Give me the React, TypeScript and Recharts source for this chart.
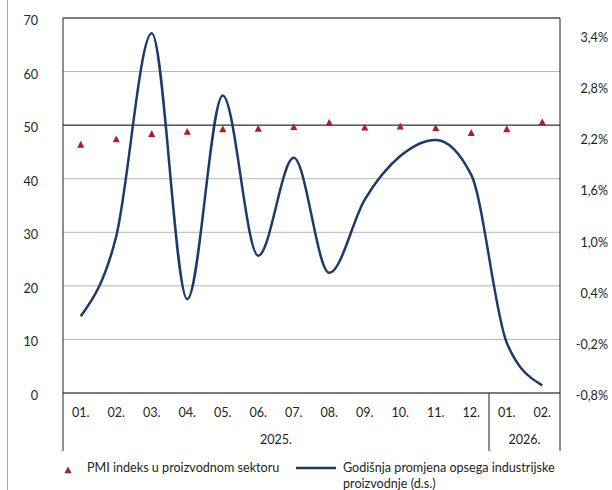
import {
  ComposedChart,
  Line,
  Scatter,
  XAxis,
  YAxis,
  CartesianGrid,
  ReferenceLine,
} from "recharts";

const months = ["01.", "02.", "03.", "04.", "05.", "06.", "07.", "08.", "09.", "10.", "11.", "12.", "01.", "02."];
const yearGroups = [
  { label: "2025.", count: 12 },
  { label: "2026.", count: 2 },
];
const pmi = [46.4, 47.4, 48.4, 48.8, 49.3, 49.4, 49.7, 50.5, 49.6, 49.8, 49.5, 48.6, 49.3, 50.6];
const production = [0.1, 1.04, 3.42, 0.3, 2.69, 0.81, 1.96, 0.61, 1.47, 1.98, 2.17, 1.76, -0.21, -0.71];
const leftTicks = [0, 10, 20, 30, 40, 50, 60, 70];
const rightTicks = [-0.8, -0.2, 0.4, 1.0, 1.6, 2.2, 2.8, 3.4];

const pmiLabel = "PMI indeks u proizvodnom sektoru";
const productionLabel = ["Godišnja promjena opsega industrijske", "proizvodnje (d.s.)"];

const data = months.map((m, i) => ({ month: m, pmi: pmi[i], production: production[i] }));

const FONT = "Lato, 'Open Sans', sans-serif";
const FS = 12.6;
const TEXT = "#231f20";
const NAVY = "#1d3a6c";
const RED = "#b01e2b";
const AXIS = "#231f20";

// layout
const W = 612;
const H = 490;
const margin = { top: 18, right: 0, bottom: 40, left: 8 };
const leftAxisW = 55;
const rightAxisW = 52;
const plotW = W - margin.left - margin.right - leftAxisW - rightAxisW;
const half = plotW / months.length / 2;

function Triangle(props: any) {
  const { cx, cy } = props;
  if (cx == null || cy == null) return null;
  return (
    <polygon
      points={`${cx - 3.6},${cy + 3.3} ${cx + 3.6},${cy + 3.3} ${cx},${cy - 3.6}`}
      fill={RED}
    />
  );
}

function MonthTick(props: any) {
  const { x, y, payload, index } = props;
  const parts: any[] = [
    <text key="m" x={x} y={y} dy={24} textAnchor="middle" fill={TEXT} fontSize={FS} fontFamily={FONT}>
      {payload.value}
    </text>,
  ];
  let start = 0;
  yearGroups.forEach((g, gi) => {
    if (index === start) {
      parts.push(<line key={`s${gi}`} x1={x - half} x2={x - half} y1={y} y2={y + 58} stroke={AXIS} strokeWidth={1} />);
    }
    const mid = start + (g.count - 1) / 2;
    if (index === Math.floor(mid)) {
      const cx = x + (mid - Math.floor(mid)) * 2 * half;
      parts.push(
        <text key={`y${gi}`} x={cx} y={y} dy={51} textAnchor="middle" fill={TEXT} fontSize={FS} fontFamily={FONT}>
          {g.label}
        </text>
      );
    }
    start += g.count;
  });
  if (index === months.length - 1) {
    parts.push(<line key="end" x1={x + half} x2={x + half} y1={y} y2={y + 58} stroke={AXIS} strokeWidth={1} />);
  }
  return <g>{parts}</g>;
}

function LeftTick(props: any) {
  const { x, y, payload } = props;
  return (
    <text x={x - 25} y={y} dy={7} textAnchor="end" fill={TEXT} fontSize={FS} fontFamily={FONT}>
      {payload.value}
    </text>
  );
}

function RightTick(props: any) {
  const { x, y, payload } = props;
  const label = `${Number(payload.value).toFixed(1).replace(".", ",")}%`;
  return (
    <text x={x + 48} y={y} dy={7} textAnchor="end" fill={TEXT} fontSize={FS} fontFamily={FONT}>
      {label}
    </text>
  );
}

export default function App() {
  return (
    <div style={{ position: "absolute", left: 0, top: 0, width: W, height: H, background: "#fff", fontFamily: FONT }}>
      <div style={{ position: "absolute", left: 7, top: 0, width: 1, height: H, background: "#aaa" }} />
      <ComposedChart width={W} height={H} data={data} margin={margin}>
        <CartesianGrid vertical={false} stroke="#b5b5b5" yAxisId="left" />
        <XAxis
          dataKey="month"
          interval={0}
          height={57}
          padding={{ left: half, right: half }}
          tickLine={false}
          tickSize={0}
          tickMargin={0}
          axisLine={{ stroke: AXIS }}
          tick={<MonthTick />}
        />
        <YAxis
          yAxisId="left"
          domain={[0, 70]}
          ticks={leftTicks}
          width={leftAxisW}
          tickLine={false}
          tickSize={0}
          tickMargin={0}
          axisLine={{ stroke: AXIS }}
          tick={<LeftTick />}
        />
        <YAxis
          yAxisId="right"
          orientation="right"
          domain={[-0.8, 3.6]}
          ticks={rightTicks}
          width={rightAxisW}
          tickLine={false}
          tickSize={0}
          tickMargin={0}
          axisLine={{ stroke: AXIS }}
          tick={<RightTick />}
        />
        <ReferenceLine yAxisId="left" y={70} stroke={AXIS} />
        <ReferenceLine yAxisId="left" y={50} stroke={AXIS} />
        <Line
          yAxisId="right"
          type="monotone"
          dataKey="production"
          stroke={NAVY}
          strokeWidth={2.5}
          dot={false}
          isAnimationActive={false}
        />
        <Scatter yAxisId="left" dataKey="pmi" shape={<Triangle />} isAnimationActive={false} />
      </ComposedChart>
      <div style={{ position: "absolute", left: 0, top: 0, width: W, height: H, pointerEvents: "none" }}>
        <svg width={W} height={H} style={{ position: "absolute", left: 0, top: 0 }}>
          <polygon points="64.4,473.3 71.6,473.3 68,466.4" fill={RED} />
          <line x1={296} x2={336} y1={468} y2={468} stroke={NAVY} strokeWidth={2.5} />
        </svg>
        <div style={{ position: "absolute", left: 87, top: 460, fontSize: FS, lineHeight: "16px", color: TEXT, whiteSpace: "nowrap" }}>
          {pmiLabel}
        </div>
        <div style={{ position: "absolute", left: 343, top: 460, fontSize: FS, lineHeight: "16px", color: TEXT, whiteSpace: "nowrap" }}>
          {productionLabel[0]}
          <br />
          {productionLabel[1]}
        </div>
      </div>
    </div>
  );
}
